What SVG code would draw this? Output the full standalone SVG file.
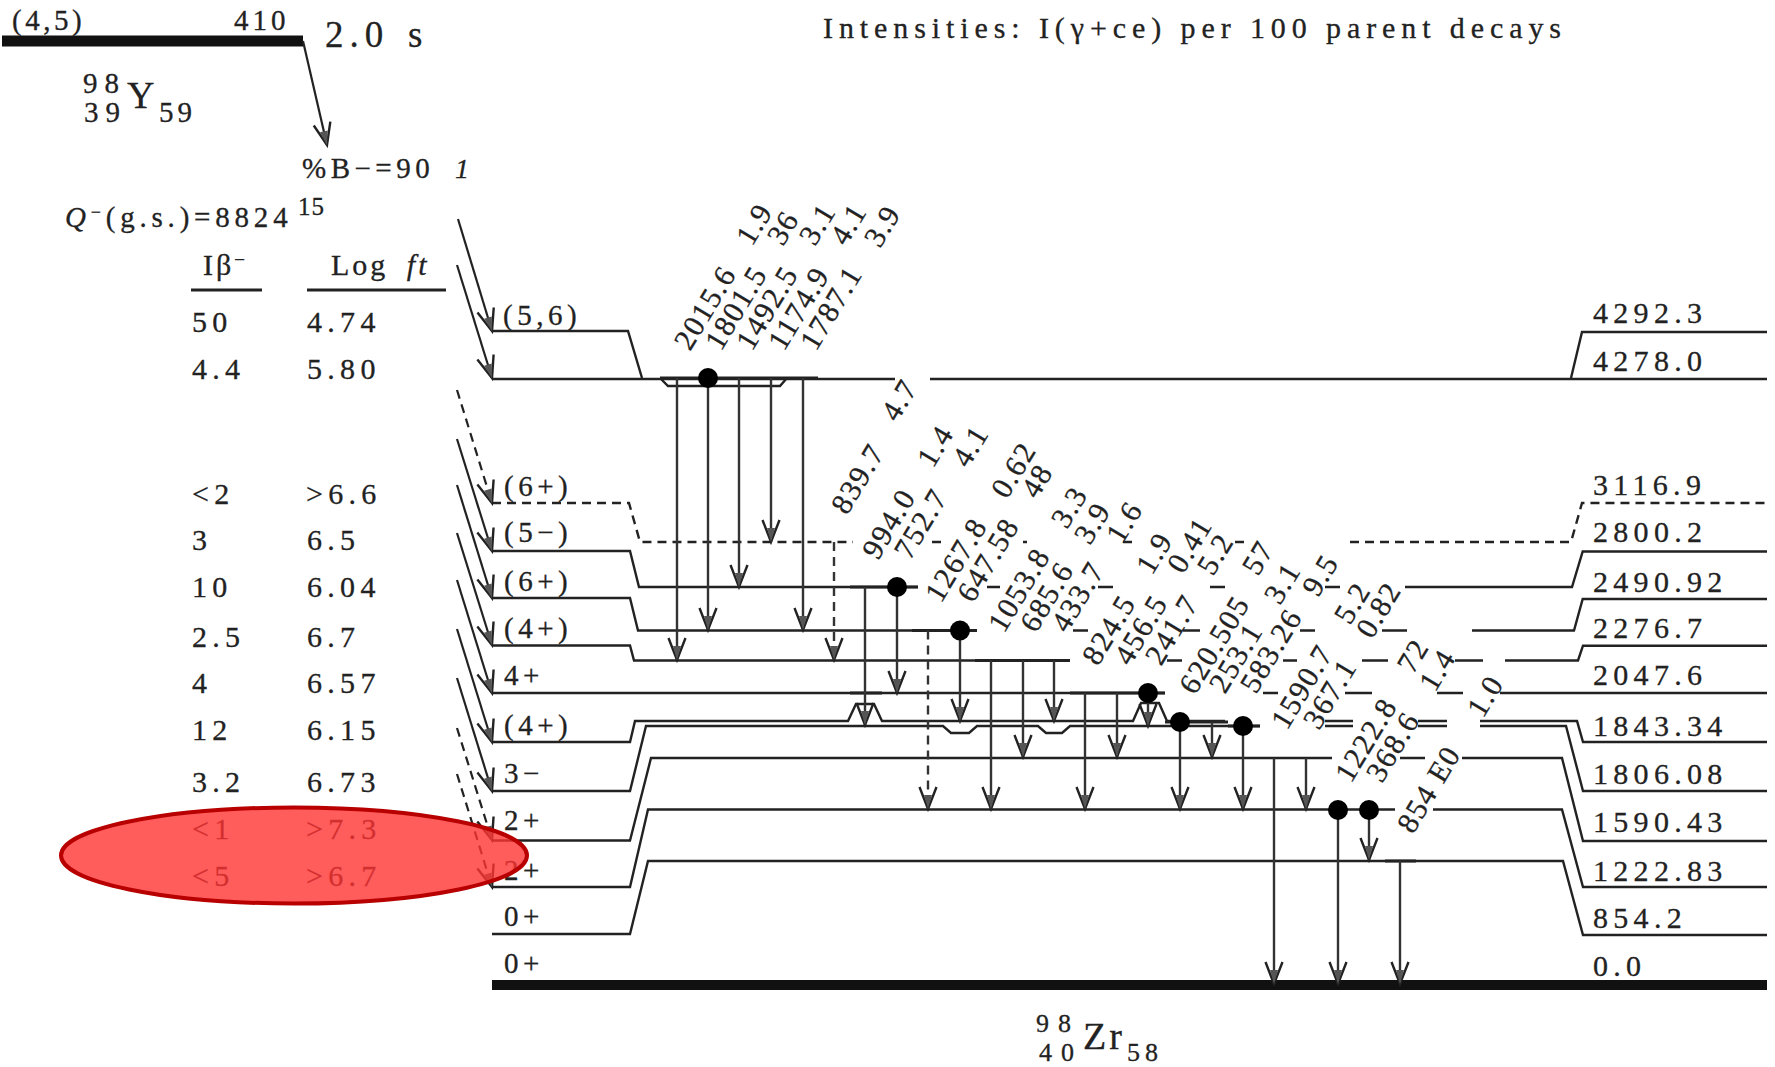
<svg xmlns="http://www.w3.org/2000/svg" width="1775" height="1067" viewBox="0 0 1775 1067">
<style>
text{font-family:"Liberation Serif","Times New Roman",serif;fill:#222;stroke:#222;stroke-width:.3px}
.t{font-size:30px;letter-spacing:5.3px}
.l{font-size:29px;letter-spacing:4.5px}
.g{font-size:30px;letter-spacing:1.5px}
.s{font-size:29px;letter-spacing:7px}
.z{font-size:26px;letter-spacing:9px}
.lv{fill:none;stroke:#222;stroke-width:2.4}
.da{stroke-dasharray:9 6}
.b{fill:none;stroke:#222;stroke-width:2.2}
.a{fill:none;stroke:#333;stroke-width:2.4;marker-end:url(#arr)}
.bar{stroke:#222;stroke-width:3;fill:none}
.dot{fill:#000}
</style>
<defs>
<marker id="arr" markerUnits="userSpaceOnUse" orient="auto" markerWidth="30" markerHeight="24" refX="24" refY="10" overflow="visible">
<path d="M2 1.5L24 10L2 18.5" fill="none" stroke="#222" stroke-width="2.4"/>
<path d="M10 6L24 10L10 14Z" fill="#555"/>
</marker>
</defs>
<rect width="1775" height="1067" fill="#fff"/>
<g id="parent">
<rect x="2" y="35.500" width="301" height="11" fill="#111"/>
<text class="l" x="12" y="30" style="letter-spacing:3.5px">(4,5)</text>
<text class="l" x="234" y="30" style="letter-spacing:4px">410</text>
<text x="325" y="47" style="font-size:37px;letter-spacing:6px">2.0<tspan x="408">s</tspan></text>
<text class="s" x="83" y="93">98</text>
<text class="s" x="84" y="122">39</text>
<text x="127" y="108" style="font-size:38px">Y</text>
<text class="s" x="159" y="122" style="letter-spacing:4px">59</text>
<text class="l" x="302" y="178" style="letter-spacing:4.500px">%B−=90</text>
<text x="455" y="178" style="font-size:28px;font-style:italic">1</text>
<text class="l" x="65" y="227" style="letter-spacing:4.800px"><tspan style="font-style:italic">Q</tspan><tspan dy="-9" style="font-size:18px">−</tspan><tspan dy="9">(g.s.)=8824</tspan></text>
<text class="s" x="298" y="215" style="font-size:25px;letter-spacing:1px">15</text>
</g>
<g id="title"><text x="823" y="38" textLength="738" style="font-size:30px">Intensities: I(γ+ce) per 100 parent decays</text></g>
<g id="daughter">
<text class="z" x="1036" y="1032">98</text>
<text class="z" x="1039" y="1061">40</text>
<text x="1083" y="1049" style="font-size:38px;letter-spacing:3px">Zr</text>
<text class="z" x="1127" y="1061" style="letter-spacing:5px">58</text>
</g>
<g id="table">
<text x="203" y="275" class="t" style="letter-spacing:3px">Iβ<tspan dy="-9" style="font-size:19px">−</tspan></text>
<text x="331" y="275" class="t" style="letter-spacing:3px">Log <tspan style="font-style:italic" dx="8">ft</tspan></text>
<path class="bar" d="M191 290H262M307 290H446"/>
<text class="t" x="192" y="332">50</text><text class="t" x="307" y="332">4.74</text>
<text class="t" x="192" y="379">4.4</text><text class="t" x="307" y="379">5.80</text>
<text class="t" x="192" y="504">&lt;2</text><text class="t" x="306" y="504">&gt;6.6</text>
<text class="t" x="192" y="550">3</text><text class="t" x="307" y="550">6.5</text>
<text class="t" x="192" y="597">10</text><text class="t" x="307" y="597">6.04</text>
<text class="t" x="192" y="647">2.5</text><text class="t" x="307" y="647">6.7</text>
<text class="t" x="192" y="693">4</text><text class="t" x="307" y="693">6.57</text>
<text class="t" x="192" y="740">12</text><text class="t" x="307" y="740">6.15</text>
<text class="t" x="192" y="792">3.2</text><text class="t" x="307" y="792">6.73</text>
<text class="t" x="192" y="839">&lt;1</text><text class="t" x="306" y="839">&gt;7.3</text>
<text class="t" x="192" y="886">&lt;5</text><text class="t" x="306" y="886">&gt;6.7</text>
</g>
<g id="level-4292">
<path class="lv" d="M492 331H628L642 378M660 378L668 386H780L787 378M1571 378L1582 332H1767"/>
<text class="l" x="503" y="325">(5,6)</text><text class="t" x="1593" y="323">4292.3</text>
</g>
<g id="level-4278">
<path class="lv" d="M492 379H895M930 379H1767"/>
<text class="t" x="1593" y="371">4278.0</text>
</g>
<g id="level-3116">
<path class="lv da" d="M492 503H629L640 542H853M932 542H945M1023 542H1027M1123 542H1135M1235 542H1250M1350 542H1571L1582 503H1767"/>
<text class="l" x="504" y="496">(6+)</text><text class="t" x="1593" y="495">3116.9</text>
</g>
<g id="level-2800">
<path class="lv" d="M492 551H630L639 587H918M987 587H1000M1098 587H1113M1210 587H1225M1325 587H1340M1405 587H1572L1582.700 551.500H1767"/>
<text class="l" x="504" y="542">(5−)</text><text class="t" x="1593" y="542">2800.2</text>
</g>
<g id="level-2490">
<path class="lv" d="M492 598H630L638 630.500H977M1073 630.500H1088M1183 630.500H1200M1300 630.500H1315M1382 630.500H1407M1472 630.500H1574L1582.700 599H1767"/>
<text class="l" x="504" y="591">(6+)</text><text class="t" x="1593" y="592">2490.92</text>
</g>
<g id="level-2276">
<path class="lv" d="M492 645.500H630L634 660.500H1070M1167 660.500H1182M1283 660.500H1297M1362 660.500H1388M1455 660.500H1483M1505 660.500H1578L1583 645.700H1767"/>
<text class="l" x="504" y="638">(4+)</text><text class="t" x="1593" y="638">2276.7</text>
</g>
<g id="level-2047">
<path class="lv" d="M492 693H1165M1263 693H1278M1345 693H1372M1437 693H1463M1500 693H1767"/>
<text class="l" x="504" y="685">4+</text><text class="t" x="1593" y="685">2047.6</text>
</g>
<g id="level-1843">
<path class="lv" d="M492 742H630L635 721H848L856 704H874L882 721H1133L1141 703H1159L1167 721H1225M1325 721H1353M1418 721H1447M1480 721H1577L1583 742H1767"/>
<text class="l" x="504" y="735">(4+)</text><text class="t" x="1593" y="736">1843.34</text>
</g>
<g id="level-1806">
<path class="lv" d="M492 791H630L646 726H943L951 733H969L977 726H1038L1046 733H1062L1070 726H1260M1325 726H1353M1418 726H1447M1480 726H1566L1583 791H1767"/>
<text class="l" x="504" y="783">3−</text><text class="t" x="1593" y="784">1806.08</text>
</g>
<g id="level-1590">
<path class="lv" d="M492 840.500H630L651 758H1332M1400 758H1425M1462 758H1562L1583 841H1767"/>
<text class="l" x="504" y="830">2+</text><text class="t" x="1593" y="832">1590.43</text>
</g>
<g id="level-1222">
<path class="lv" d="M492 887H630L648 809.500H1395M1433 809.500H1562L1583 887H1767"/>
<text class="l" x="504" y="880">2+</text><text class="t" x="1593" y="881">1222.83</text>
</g>
<g id="level-854">
<path class="lv" d="M492 934H630L648 861H1563L1583 935H1767"/>
<text class="l" x="504" y="926">0+</text><text class="t" x="1593" y="928">854.2</text>
</g>
<g id="level-0">
<rect x="492" y="980" width="1275" height="10" fill="#111"/>
<text class="l" x="504" y="973">0+</text><text class="t" x="1593" y="976">0.0</text>
</g>
<g id="connectors">
<path class="bar" d="M660 378H818M850 587H918M912 630.500H977M975 660.500H1070M850 693H882M1070 693H1165M1165 722H1228M1228 726H1260M1385 861H1416"/>
<path class="b" style="marker-end:url(#arr)" d="M303 41L327 145"/>
<path class="b" style="marker-end:url(#arr)" d="M458 219L492 331"/>
<path class="b" style="marker-end:url(#arr)" d="M457 265L492 378"/>
<path class="b da" style="marker-end:url(#arr)" d="M457 390L492 503"/>
<path class="b" style="marker-end:url(#arr)" d="M457 439L492 551"/>
<path class="b" style="marker-end:url(#arr)" d="M457 485L492 598"/>
<path class="b" style="marker-end:url(#arr)" d="M457 533L492 645"/>
<path class="b" style="marker-end:url(#arr)" d="M457 580L492 693"/>
<path class="b" style="marker-end:url(#arr)" d="M457 629L492 742"/>
<path class="b" style="marker-end:url(#arr)" d="M457 678L492 791"/>
<path class="b da" style="marker-end:url(#arr)" d="M457 728L492 840"/>
<path class="b da" style="marker-end:url(#arr)" d="M457 774L492 887"/>
<path class="a" d="M677 378V660"/>
<path class="a" d="M708 378V630"/>
<path class="a" d="M739 378V587"/>
<path class="a" d="M771 378V542"/>
<path class="a" d="M803 378V630"/>
<path class="a da" d="M834 542V660"/>
<path class="a" d="M865 587V725"/>
<path class="a" d="M897 587V693"/>
<path class="a da" d="M928 630.500V809"/>
<path class="a" d="M960 630.500V721"/>
<path class="a" d="M991 660.500V809"/>
<path class="a" d="M1023 660.500V757"/>
<path class="a" d="M1054 660.500V721"/>
<path class="a" d="M1085 693V809"/>
<path class="a" d="M1117 693V757"/>
<path class="a" d="M1148 693V726"/>
<path class="a" d="M1180 722V809"/>
<path class="a" d="M1212 722V757"/>
<path class="a" d="M1243 726V809"/>
<path class="a" d="M1274 758V984"/>
<path class="a" d="M1306 758V809"/>
<path class="a" d="M1338 810V984"/>
<path class="a" d="M1369 810V860"/>
<path class="a" d="M1400 861V984"/>
<circle class="dot" cx="708" cy="378" r="10"/>
<circle class="dot" cx="897" cy="587" r="10"/>
<circle class="dot" cx="960" cy="630.500" r="10"/>
<circle class="dot" cx="1148" cy="693" r="10"/>
<circle class="dot" cx="1180" cy="722" r="10"/>
<circle class="dot" cx="1243" cy="726" r="10"/>
<circle class="dot" cx="1338" cy="810" r="10"/>
<circle class="dot" cx="1369" cy="810" r="10"/>
</g>
<g id="gamma-labels">
<text class="g" transform="translate(690 352) rotate(-59)">2015.6</text>
<text class="g" transform="translate(721 352) rotate(-59)">1801.5</text>
<text class="g" transform="translate(752 352) rotate(-59)">1492.5</text>
<text class="g" transform="translate(784 352) rotate(-59)">1174.9</text>
<text class="g" transform="translate(816 352) rotate(-59)">1787.1</text>
<text class="g" transform="translate(752 247) rotate(-59)">1.9</text>
<text class="g" transform="translate(783 247) rotate(-59)">36</text>
<text class="g" transform="translate(815 247) rotate(-59)">3.1</text>
<text class="g" transform="translate(846 247) rotate(-59)">4.1</text>
<text class="g" transform="translate(880 249) rotate(-59)">3.9</text>
<text class="g" transform="translate(847 516) rotate(-59)">839.7</text>
<text class="g" transform="translate(897 423) rotate(-59)">4.7</text>
<text class="g" transform="translate(878 561) rotate(-59)">994.0</text>
<text class="g" transform="translate(910 561) rotate(-59)">752.7</text>
<text class="g" transform="translate(933 469) rotate(-59)">1.4</text>
<text class="g" transform="translate(968 469) rotate(-59)">4.1</text>
<text class="g" transform="translate(941 604) rotate(-59)">1267.8</text>
<text class="g" transform="translate(973 604) rotate(-59)">647.58</text>
<text class="g" transform="translate(1007 500) rotate(-59)">0.62</text>
<text class="g" transform="translate(1037 500) rotate(-59)">48</text>
<text class="g" transform="translate(1004 634) rotate(-59)">1053.8</text>
<text class="g" transform="translate(1036 634) rotate(-59)">685.6</text>
<text class="g" transform="translate(1067 634) rotate(-59)">433.7</text>
<text class="g" transform="translate(1067 530) rotate(-59)">3.3</text>
<text class="g" transform="translate(1090 546) rotate(-59)">3.9</text>
<text class="g" transform="translate(1122 545) rotate(-59)">1.6</text>
<text class="g" transform="translate(1098 667) rotate(-59)">824.5</text>
<text class="g" transform="translate(1130 667) rotate(-59)">456.5</text>
<text class="g" transform="translate(1161 667) rotate(-59)">241.7</text>
<text class="g" transform="translate(1152 576) rotate(-59)">1.9</text>
<text class="g" transform="translate(1183 575) rotate(-59)">0.41</text>
<text class="g" transform="translate(1213 577) rotate(-59)">5.2</text>
<text class="g" transform="translate(1195 696) rotate(-59)">620.505</text>
<text class="g" transform="translate(1225 695) rotate(-59)">253.1</text>
<text class="g" transform="translate(1256 695) rotate(-59)">583.26</text>
<text class="g" transform="translate(1258 577) rotate(-59)">57</text>
<text class="g" transform="translate(1280 606) rotate(-59)">3.1</text>
<text class="g" transform="translate(1318 598) rotate(-59)">9.5</text>
<text class="g" transform="translate(1287 731) rotate(-59)">1590.7</text>
<text class="g" transform="translate(1319 731) rotate(-59)">367.1</text>
<text class="g" transform="translate(1350 626) rotate(-59)">5.2</text>
<text class="g" transform="translate(1372 640) rotate(-59)">0.82</text>
<text class="g" transform="translate(1351 784) rotate(-59)">1222.8</text>
<text class="g" transform="translate(1382 784) rotate(-59)">368.6</text>
<text class="g" transform="translate(1413 675) rotate(-59)">72</text>
<text class="g" transform="translate(1435 693) rotate(-59)">1.4</text>
<text class="g" transform="translate(1413 835) rotate(-59)">854  E0</text>
<text class="g" transform="translate(1483 719) rotate(-59)">1.0</text>
</g>
<ellipse id="highlight" cx="294" cy="855.500" rx="233" ry="48" fill="#ff3333" fill-opacity=".8" stroke="#b80000" stroke-width="4"/>
</svg>
